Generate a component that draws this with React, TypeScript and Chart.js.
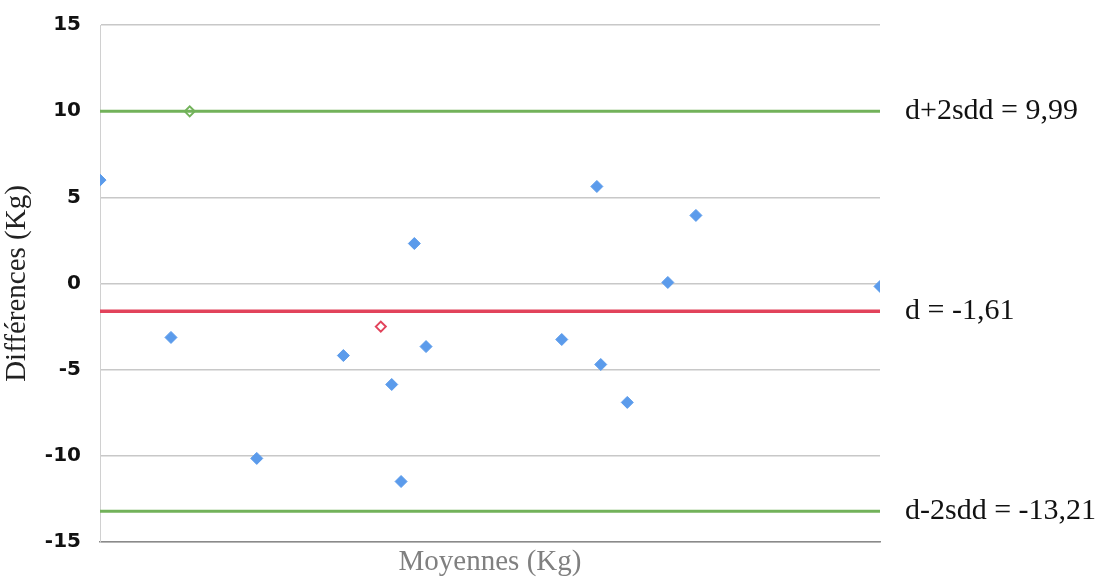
import React, { useEffect, useRef } from "react";
import { Chart, registerables } from "chart.js";

Chart.register(...registerables);

// Moyennes (Kg) – relative position along x
const pointsX = [0, 9.1, 20.1, 31.2, 37.4, 38.6, 40.3, 41.8, 59.2, 63.7, 64.2, 67.6, 72.8, 76.4, 100];
// Différences (Kg)
const pointsY = [6.0, -3.13, -10.15, -4.18, -5.86, -11.49, 2.32, -3.66, -3.25, 5.63, -4.7, -6.9, 0.06, 3.95, -0.17];

const greenPointX = [11.5];
const greenPointY = [9.99];
const redPointX = [36.0];
const redPointY = [-2.5];

const xRange = [0, 100];
const meanDiff = -1.61;
const upperLimit = 9.99;
const lowerLimit = -13.21;
const lineLabels = ["d+2sdd = 9,99", "d = -1,61", "d-2sdd = -13,21"];
const lineValues = [upperLimit, meanDiff, lowerLimit];
const yTicks = [-15, -10, -5, 0, 5, 10, 15];

const GREEN = "#72B25A";
const RED = "#E2435B";
const BLUE = "#5B9BEB";

const labelPlugin = {
  id: "lineLabels",
  afterDraw(chart: any) {
    const { ctx, chartArea, scales } = chart;
    ctx.save();
    ctx.font = "30px 'Liberation Serif'";
    ctx.fillStyle = "#111";
    ctx.textBaseline = "middle";
    ctx.textAlign = "left";
    lineLabels.forEach((t, i) => {
      const y = scales.y.getPixelForValue(lineValues[i]);
      ctx.fillText(t, chartArea.right + 25, y);
    });
    ctx.restore();
  },
};

export default function App() {
  const ref = useRef<HTMLCanvasElement>(null);
  useEffect(() => {
    if (!ref.current) return;
    const chart = new Chart(ref.current, {
      type: "scatter",
      data: {
        datasets: [
          {
            label: "d+2sdd",
            type: "line",
            data: xRange.map((x) => ({ x, y: upperLimit })),
            borderColor: GREEN,
            borderWidth: 3,
            pointRadius: 0,
          },
          {
            label: "d",
            type: "line",
            data: xRange.map((x) => ({ x, y: meanDiff })),
            borderColor: RED,
            borderWidth: 3.5,
            pointRadius: 0,
          },
          {
            label: "d-2sdd",
            type: "line",
            data: xRange.map((x) => ({ x, y: lowerLimit })),
            borderColor: GREEN,
            borderWidth: 3,
            pointRadius: 0,
          },
          {
            label: "Différences",
            data: pointsX.map((x, i) => ({ x, y: pointsY[i] })),
            pointStyle: "rectRot",
            pointRadius: 6,
            backgroundColor: BLUE,
            borderColor: BLUE,
            borderWidth: 1,
          },
          {
            label: "g",
            data: greenPointX.map((x, i) => ({ x, y: greenPointY[i] })),
            pointStyle: "rectRot",
            pointRadius: 5,
            backgroundColor: "#fff",
            borderColor: GREEN,
            borderWidth: 2,
          },
          {
            label: "r",
            data: redPointX.map((x, i) => ({ x, y: redPointY[i] })),
            pointStyle: "rectRot",
            pointRadius: 5,
            backgroundColor: "#fff",
            borderColor: RED,
            borderWidth: 2,
          },
        ],
      },
      options: {
        animation: false,
        responsive: false,
        maintainAspectRatio: false,
        layout: { padding: { top: 25, right: 216, left: 0, bottom: 0 } },
        plugins: { legend: { display: false }, tooltip: { enabled: false } },
        scales: {
          x: {
            type: "linear",
            min: xRange[0],
            max: xRange[1],
            grid: { display: false },
            border: { color: "#8a8a8a", width: 1.5 },
            ticks: { display: false },
            title: {
              display: true,
              text: "Moyennes (Kg)",
              color: "#808080",
              font: { family: "'Liberation Serif'", size: 29 },
              padding: { top: 2, bottom: 0 },
            },
            afterFit: (s: any) => {
              s.height = 38;
              s.paddingLeft = 0;
              s.paddingRight = 0;
            },
          },
          y: {
            min: -15,
            max: 15,
            afterBuildTicks: (s: any) => {
              s.ticks = yTicks.map((v) => ({ value: v }));
            },
            grid: { color: "#c8c8c8", lineWidth: 1.5, drawTicks: false },
            border: { color: "#d0d0d0", width: 1 },
            ticks: {
              color: "#111",
              font: { family: "'DejaVu Sans'", size: 20, weight: "bold" },
              padding: 19,
            },
            title: {
              display: true,
              text: "Différences (Kg)",
              color: "#222",
              font: { family: "'Liberation Serif'", size: 29 },
              padding: { top: 0, bottom: 0 },
            },
            afterFit: (s: any) => {
              s.width = 100;
              s.paddingTop = 0;
              s.paddingBottom = 0;
            },
          },
        },
      },
      plugins: [labelPlugin],
    });
    return () => chart.destroy();
  }, []);
  return (
    <div style={{ position: "absolute", left: 0, top: 0, width: 1096, height: 580, background: "#fff" }}>
      <canvas ref={ref} width={1096} height={580} />
    </div>
  );
}
